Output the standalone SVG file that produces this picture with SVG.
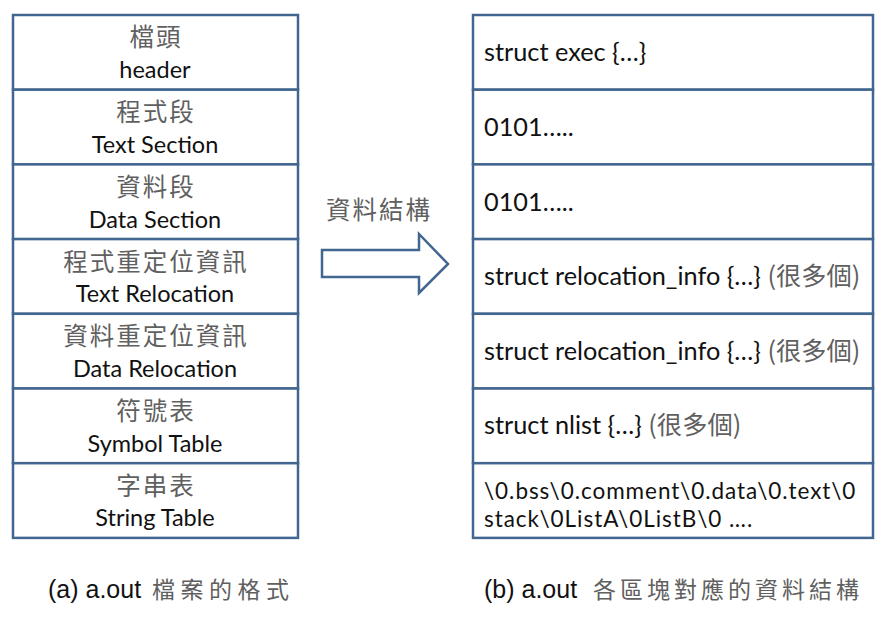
<svg xmlns="http://www.w3.org/2000/svg" width="891" height="618" viewBox="0 0 891 618">
<style>
.box{fill:#fff;stroke:#41668F;stroke-width:2.5}
.en{font-family:Lato,"Liberation Sans","Noto Sans CJK TC",sans-serif;font-size:23.5px;fill:#111}
.er{font-size:25.3px}
.ers{font-size:22.5px;letter-spacing:0.95px}
.cj{font-family:"Noto Sans CJK TC",sans-serif;font-size:24.5px;fill:#606060;letter-spacing:2px}
.cjs{font-family:"Noto Sans CJK TC",sans-serif;fill:#606060}
.cap{font-family:"Liberation Sans",Arial,"Noto Sans CJK TC",sans-serif;font-size:25px;fill:#111}
.mid{text-anchor:middle}
</style>
<rect width="891" height="618" fill="#fff"/>
<g id="left">
<g id="l1"><rect class="box" x="13" y="15" width="285" height="74.7"/><text class="cj mid" x="156" y="46">檔頭</text><text class="en mid" x="155" y="78">header</text></g>
<g id="l2"><rect class="box" x="13" y="89.7" width="285" height="74.7"/><text class="cj mid" x="156" y="121">程式段</text><text class="en mid" x="155" y="153">Text Section</text></g>
<g id="l3"><rect class="box" x="13" y="164.4" width="285" height="74.7"/><text class="cj mid" x="156" y="196">資料段</text><text class="en mid" x="155" y="228">Data Section</text></g>
<g id="l4"><rect class="box" x="13" y="239.1" width="285" height="74.7"/><text class="cj mid" x="156" y="271">程式重定位資訊</text><text class="en mid" x="155" y="302">Text Relocation</text></g>
<g id="l5"><rect class="box" x="13" y="313.8" width="285" height="74.7"/><text class="cj mid" x="156" y="345">資料重定位資訊</text><text class="en mid" x="155" y="377">Data Relocation</text></g>
<g id="l6"><rect class="box" x="13" y="388.5" width="285" height="74.7"/><text class="cj mid" x="156" y="420">符號表</text><text class="en mid" x="155" y="452">Symbol Table</text></g>
<g id="l7"><rect class="box" x="13" y="463.2" width="285" height="74.7"/><text class="cj mid" x="156" y="495">字串表</text><text class="en mid" x="155" y="526">String Table</text></g>
</g>
<g id="right">
<g id="r1"><rect class="box" x="473" y="15" width="400" height="74.7"/><text class="en er" x="484" y="61">struct exec {…}</text></g>
<g id="r2"><rect class="box" x="473" y="89.7" width="400" height="74.7"/><text class="en er" x="484" y="136">0101…..</text></g>
<g id="r3"><rect class="box" x="473" y="164.4" width="400" height="74.7"/><text class="en er" x="484" y="211">0101…..</text></g>
<g id="r4"><rect class="box" x="473" y="239.1" width="400" height="74.7"/><text class="en er" x="484" y="285">struct relocation_info {…} <tspan class="cjs">(很多個)</tspan></text></g>
<g id="r5"><rect class="box" x="473" y="313.8" width="400" height="74.7"/><text class="en er" x="484" y="360">struct relocation_info {…} <tspan class="cjs">(很多個)</tspan></text></g>
<g id="r6"><rect class="box" x="473" y="388.5" width="400" height="74.7"/><text class="en er" x="484" y="434">struct nlist {…} <tspan class="cjs">(很多個)</tspan></text></g>
<g id="r7"><rect class="box" x="473" y="463.2" width="400" height="74.7"/><text class="en ers"><tspan x="484" y="499">\0.bss\0.comment\0.data\0.text\0</tspan><tspan x="484" y="527">stack\0ListA\0ListB\0 ….</tspan></text></g>
</g>
<g id="connectors">
<polygon points="322,250 419,250 419,234 448,264 419,293 419,277 322,277" fill="#fff" stroke="#41668F" stroke-width="2.5" stroke-linejoin="miter"/>
<text class="cj" x="326" y="219" style="letter-spacing:2px">資料結構</text>
</g>
<g id="captions">
<text class="cap" x="48" y="598">(a) a.out <tspan class="cjs" x="152" font-size="23" letter-spacing="5.5">檔案的格式</tspan></text>
<text class="cap" x="484" y="598">(b) a.out <tspan class="cjs" x="593" font-size="23" letter-spacing="4">各區塊對應的資料結構</tspan></text>
</g>
</svg>
